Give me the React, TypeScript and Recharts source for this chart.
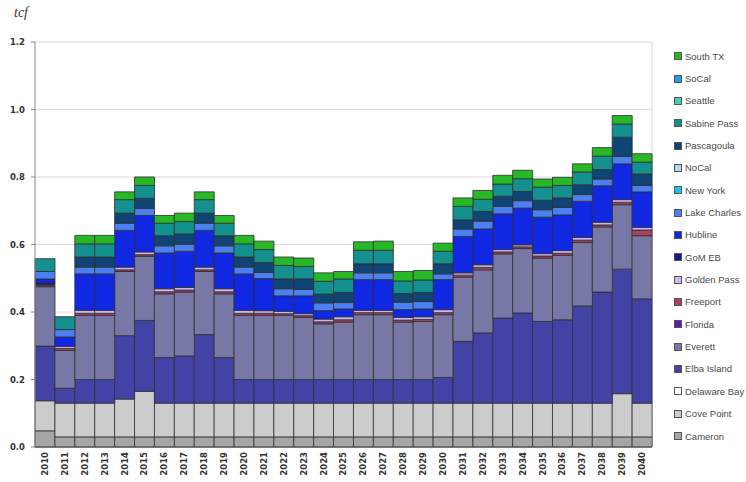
import React from "react";
import { BarChart, Bar, XAxis, YAxis, CartesianGrid } from "recharts";

const YEARS = [
  "2010", "2011", "2012", "2013", "2014", "2015", "2016", "2017", "2018", "2019",
  "2020", "2021", "2022", "2023", "2024", "2025", "2026", "2027", "2028", "2029",
  "2030", "2031", "2032", "2033", "2034", "2035", "2036", "2037", "2038", "2039",
  "2040",
];

const Y_TICKS = [0, 0.2, 0.4, 0.6, 0.8, 1.0, 1.2];

const ZEROS = [
  0, 0, 0, 0, 0, 0, 0, 0, 0, 0, 0, 0, 0, 0, 0, 0, 0, 0, 0, 0, 0, 0, 0, 0, 0, 0,
  0, 0, 0, 0, 0,
];

const cameron = [
  0.048, 0.03, 0.03, 0.03, 0.03, 0.03, 0.03, 0.03, 0.03, 0.03, 0.03, 0.03, 0.03,
  0.03, 0.03, 0.03, 0.03, 0.03, 0.03, 0.03, 0.03, 0.03, 0.03, 0.03, 0.03, 0.03,
  0.03, 0.03, 0.03, 0.03, 0.03,
];
const covePoint = [
  0.089, 0.1, 0.1, 0.1, 0.112, 0.135, 0.1, 0.1, 0.1, 0.1, 0.1, 0.1, 0.1, 0.1,
  0.1, 0.1, 0.1, 0.1, 0.1, 0.1, 0.1, 0.1, 0.1, 0.1, 0.1, 0.1, 0.1, 0.1, 0.1,
  0.128, 0.1,
];
const elbaIsland = [
  0.162, 0.044, 0.07, 0.07, 0.188, 0.21, 0.135, 0.14, 0.203, 0.135, 0.07, 0.07,
  0.07, 0.07, 0.07, 0.07, 0.07, 0.07, 0.07, 0.07, 0.076, 0.183, 0.208, 0.252,
  0.267, 0.242, 0.247, 0.288, 0.329, 0.369, 0.309,
];
const everett = [
  0.176, 0.112, 0.19, 0.19, 0.19, 0.19, 0.189, 0.189, 0.187, 0.189, 0.19, 0.19,
  0.19, 0.184, 0.165, 0.17, 0.192, 0.192, 0.17, 0.172, 0.186, 0.19, 0.187, 0.19,
  0.191, 0.188, 0.191, 0.188, 0.193, 0.191, 0.187,
];
const freeport = [
  0.004, 0.006, 0.006, 0.006, 0.005, 0.005, 0.006, 0.006, 0.005, 0.006, 0.006,
  0.006, 0.005, 0.005, 0.006, 0.007, 0.006, 0.006, 0.006, 0.006, 0.006, 0.006,
  0.007, 0.006, 0.005, 0.006, 0.006, 0.007, 0.006, 0.007, 0.017,
];
const goldenPass = [
  0.002, 0.006, 0.009, 0.009, 0.008, 0.008, 0.009, 0.008, 0.008, 0.009, 0.009,
  0.008, 0.007, 0.006, 0.008, 0.009, 0.007, 0.007, 0.008, 0.008, 0.009, 0.007,
  0.008, 0.007, 0.006, 0.007, 0.008, 0.008, 0.008, 0.008, 0.008,
];
const gomEb = [
  0.005, 0, 0, 0, 0, 0, 0, 0, 0, 0, 0, 0, 0, 0, 0, 0, 0, 0, 0, 0, 0, 0, 0, 0, 0,
  0, 0, 0, 0, 0, 0,
];
const hubline = [
  0.012, 0.028, 0.108, 0.108, 0.109, 0.108, 0.106, 0.107, 0.109, 0.106, 0.108,
  0.095, 0.046, 0.053, 0.025, 0.023, 0.091, 0.091, 0.023, 0.023, 0.089, 0.108,
  0.106, 0.106, 0.109, 0.108, 0.106, 0.107, 0.108, 0.106, 0.105,
];
const lakeCharles = [
  0.022, 0.022, 0.02, 0.02, 0.021, 0.021, 0.021, 0.021, 0.021, 0.021, 0.02,
  0.018, 0.021, 0.019, 0.023, 0.019, 0.02, 0.02, 0.022, 0.022, 0.017, 0.022,
  0.023, 0.022, 0.022, 0.022, 0.022, 0.02, 0.02, 0.022, 0.019,
];
const pascagoula = [
  0, 0, 0.03, 0.03, 0.03, 0.03, 0.03, 0.03, 0.03, 0.03, 0.03, 0.03, 0.029,
  0.031, 0.026, 0.03, 0.027, 0.027, 0.026, 0.027, 0.03, 0.027, 0.029, 0.03,
  0.027, 0.028, 0.028, 0.029, 0.028, 0.057, 0.034,
];
const sabinePass = [
  0.038, 0.038, 0.039, 0.039, 0.04, 0.038, 0.037, 0.037, 0.04, 0.037, 0.039,
  0.038, 0.04, 0.037, 0.038, 0.04, 0.04, 0.04, 0.037, 0.037, 0.037, 0.04,
  0.036, 0.036, 0.038, 0.039, 0.037, 0.038, 0.04, 0.039, 0.035,
];
const southTx = [
  0, 0, 0.025, 0.025, 0.023, 0.025, 0.023, 0.025, 0.023, 0.023, 0.025, 0.025,
  0.025, 0.025, 0.025, 0.022, 0.025, 0.027, 0.028, 0.028, 0.024, 0.025, 0.026,
  0.026, 0.025, 0.024, 0.024, 0.024, 0.025, 0.025, 0.025,
];

// bottom of the stack first
const SERIES = [
  { key: "cameron", name: "Cameron", color: "#a6a6a6", values: cameron },
  { key: "covePoint", name: "Cove Point", color: "#cccccc", values: covePoint },
  { key: "delawareBay", name: "Delaware Bay", color: "#ffffff", values: ZEROS },
  { key: "elba", name: "Elba Island", color: "#4343a6", values: elbaIsland },
  { key: "everett", name: "Everett", color: "#7878a6", values: everett },
  { key: "florida", name: "Florida", color: "#5a1cb4", values: ZEROS },
  { key: "freeport", name: "Freeport", color: "#a8405e", values: freeport },
  { key: "goldenPass", name: "Golden Pass", color: "#cbb4f2", values: goldenPass },
  { key: "gomEb", name: "GoM EB", color: "#0c1a90", values: gomEb },
  { key: "hubline", name: "Hubline", color: "#1028e2", values: hubline },
  { key: "lakeCharles", name: "Lake Charles", color: "#4a80f2", values: lakeCharles },
  { key: "newYork", name: "New York", color: "#18c6ea", values: ZEROS },
  { key: "noCal", name: "NoCal", color: "#b8d4f2", values: ZEROS },
  { key: "pascagoula", name: "Pascagoula", color: "#0f4474", values: pascagoula },
  { key: "sabinePass", name: "Sabine Pass", color: "#14908f", values: sabinePass },
  { key: "seattle", name: "Seattle", color: "#4cc8b8", values: ZEROS },
  { key: "soCal", name: "SoCal", color: "#1c9fe0", values: ZEROS },
  { key: "southTx", name: "South TX", color: "#26b826", values: southTx },
];

const data = YEARS.map((year, i) => {
  const row: Record<string, string | number> = { year };
  SERIES.forEach((s) => {
    row[s.key] = s.values[i];
  });
  return row;
});

const AXIS_FONT = "'DejaVu Sans', sans-serif";

function YearTick(props: any) {
  const { x, y, payload } = props;
  return (
    <text
      x={x}
      y={y}
      dy="0.35em"
      textAnchor="end"
      transform={`rotate(-90, ${x}, ${y})`}
      fontSize={8.5}
      fontWeight="bold"
      fontFamily={AXIS_FONT}
      fill="#333"
    >
      {payload.value}
    </text>
  );
}

export default function App() {
  const legendItems = [...SERIES].reverse();
  return (
    <div
      style={{
        position: "absolute",
        left: 0,
        top: 0,
        width: 746,
        height: 482,
        background: "#fff",
      }}
    >
      <div
        style={{
          position: "absolute",
          left: 14,
          top: 5,
          fontFamily: "'Liberation Serif', serif",
          fontStyle: "italic",
          fontSize: 14,
          color: "#333",
        }}
      >
        tcf
      </div>
      <BarChart
        width={746}
        height={482}
        data={data}
        margin={{ top: 42, right: 94, left: 0, bottom: 0 }}
        barCategoryGap={0}
      >
        <CartesianGrid
          stroke="#d9d9d9"
          verticalCoordinatesGenerator={({ offset }: any) => [
            offset.left + offset.width,
          ]}
        />
        <XAxis
          dataKey="year"
          interval={0}
          tick={<YearTick />}
          tickLine={false}
          tickSize={0}
          tickMargin={5}
          height={35}
          axisLine={{ stroke: "#555" }}
        />
        <YAxis
          domain={[0, 1.2]}
          ticks={Y_TICKS}
          tickFormatter={(v: number) => v.toFixed(1)}
          width={35}
          tickSize={4}
          tickMargin={6}
          tick={{
            fontSize: 8.5,
            fontWeight: "bold",
            fontFamily: AXIS_FONT,
            fill: "#333",
          }}
          tickLine={{ stroke: "#888" }}
          axisLine={{ stroke: "#888" }}
          interval={0}
        />
        {SERIES.map((s) => (
          <Bar
            key={s.key}
            dataKey={s.key}
            name={s.name}
            stackId="lng"
            fill={s.color}
            stroke="#2e2e2e"
            strokeWidth={0.8}
            isAnimationActive={false}
          />
        ))}
      </BarChart>
      <div
        style={{
          position: "absolute",
          left: 674,
          top: 45,
          fontFamily: "'Liberation Sans', sans-serif",
          fontSize: 9.5,
          color: "#4a4a4a",
        }}
      >
        {legendItems.map((s) => (
          <div
            key={s.key}
            style={{
              display: "flex",
              alignItems: "center",
              height: 22.35,
              whiteSpace: "nowrap",
            }}
          >
            <span
              style={{
                width: 6,
                height: 6,
                background: s.color,
                border: "1px solid #555",
                marginRight: 3,
                flexShrink: 0,
              }}
            />
            {s.name}
          </div>
        ))}
      </div>
    </div>
  );
}
